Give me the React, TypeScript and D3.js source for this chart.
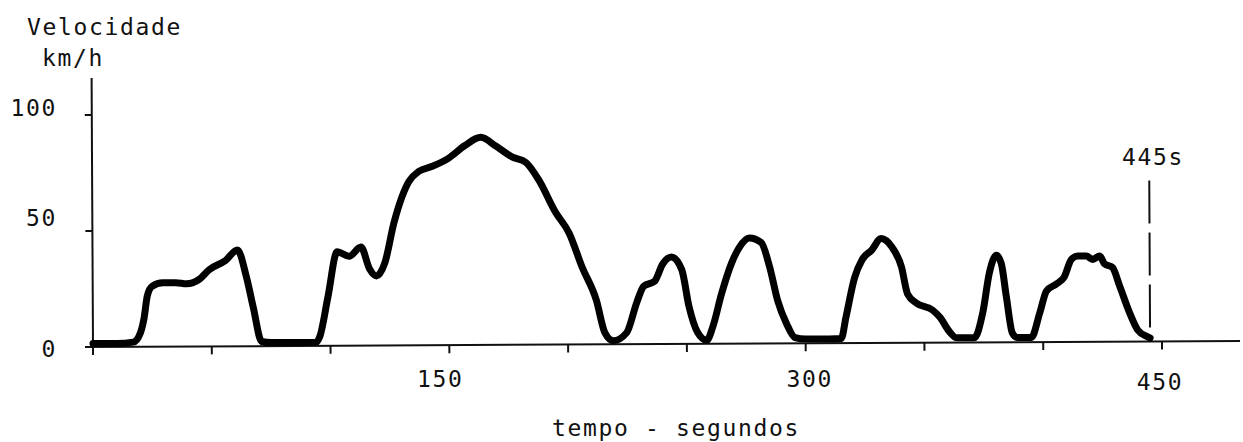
import React from "react";
import * as d3 from "d3";

// speed trace (t in s, v in km/h)
const times = [
  0, 10, 17, 20, 21.5, 23, 25, 29.5, 35, 39.5, 45, 49, 56, 61, 64.7, 67.5, 71, 75, 94,
  95.5, 99, 103, 108, 113, 116.6, 119.5, 123, 127, 133.4, 137.6, 143, 150, 157, 163.7,
  170, 176.8, 182.6, 188, 195, 200.7, 206, 212, 215.5, 219, 224.7, 229, 232, 236.5, 240,
  243.7, 248, 251, 254.5, 258.4, 261, 264.7, 268.9, 272.3, 276.5, 281.5, 285, 288.3, 292,
  295.5, 300, 310, 315, 317, 320.7, 324, 328, 332, 336.7, 340.5, 343, 346.8, 353.5, 356.5,
  360.7, 363.6, 371, 374.6, 377.5, 380.5, 382.5, 384.6, 387, 389, 395, 398.6, 401.5, 405.7,
  409, 412, 414.6, 418.3, 421, 424, 426, 429.3, 432.3, 436.4, 439.8, 444, 445,
];
const speeds = [
  1.5, 1.5, 2, 6, 12, 22, 26, 27.5, 27.5, 27, 29, 33, 37, 41.5, 30, 17, 2, 1.5, 1.5,
  4, 21, 40.5, 38.5, 42.5, 33, 30, 35.5, 53, 70.7, 75, 77, 80.5, 86, 89.5,
  85.7, 81, 78.6, 71, 57, 48, 33.5, 19, 5, 1.5, 5, 18, 25, 27, 34.5,
  37.5, 32, 16, 5, 1.5, 7.5, 21.5, 34.5, 41.5, 45.5, 43.5, 33, 18.5, 8.5,
  2.5, 1.8, 1.8, 2, 11, 28, 36, 40, 45, 41, 32.7, 21, 17, 14, 11,
  4.5, 2, 2, 12.7, 30, 37.5, 34, 19.5, 4, 2, 2, 12.5, 22, 25,
  28, 35.5, 37, 37, 35.5, 37, 33.5, 32, 24, 12.5, 5, 2, 1.5,
];
const xTicks = [0, 50, 100, 150, 200, 250, 300, 350, 400, 450];
const xTickLabels = [150, 300, 450];
const yTicks = [50, 100];
const yTickLabels = [0, 50, 100];
const endTime = 445;

// hand-placed label nudges of the original drawing
const xLabelNudge: Record<number, number> = { 150: -9, 300: 4, 450: -2 };
const yLabelNudge: Record<number, number> = { 0: 10, 50: -5, 100: 1 };

const font = "'DejaVu Sans Mono', monospace";

const App = () => {
  const width = 1243;
  const height = 442;

  const x = d3.scaleLinear().domain([0, 450]).range([93, 1162]);
  const y = d3.scaleLinear().domain([0, 100]).range([347, 115]);

  const data = times.map((t, i) => ({ t, v: speeds[i] }));
  const line = d3
    .line<{ t: number; v: number }>()
    .x((d) => x(d.t))
    .y((d) => y(d.v))
    .curve(d3.curveMonotoneX);

  const textStyle = { fontFamily: font, fontSize: 23, letterSpacing: 1.65, fill: "#111" };

  return (
    <svg
      width={width}
      height={height}
      style={{ position: "absolute", left: 0, top: 0, background: "#fff" }}
    >
      <text x={27} y={35} {...textStyle}>Velocidade</text>
      <text x={42} y={66} {...textStyle}>km/h</text>

      {yTickLabels.map((v) => (
        <text key={v} x={57} y={y(v) + yLabelNudge[v]} textAnchor="end" {...textStyle}>
          {v}
        </text>
      ))}

      <g transform={`rotate(-0.3, ${x(0)}, ${y(0)})`}>
        {/* axes */}
        <line x1={x(0)} x2={x(0)} y1={78} y2={y(0)} stroke="#111" strokeWidth={2} />
        <line x1={85} x2={1240} y1={y(0)} y2={y(0)} stroke="#111" strokeWidth={2} />
        {yTicks.map((v) => (
          <line key={v} x1={x(0) - 7} x2={x(0)} y1={y(v)} y2={y(v)} stroke="#111" strokeWidth={2} />
        ))}
        {xTicks.map((t) => (
          <line key={t} x1={x(t)} x2={x(t)} y1={y(0)} y2={y(0) + 8} stroke="#111" strokeWidth={2} />
        ))}

        {/* end marker */}
        <line
          x1={x(endTime)}
          x2={x(endTime)}
          y1={186}
          y2={y(0)}
          stroke="#111"
          strokeWidth={2}
          strokeDasharray="43 9"
        />

        <path
          d={line(data) || ""}
          fill="none"
          stroke="#000"
          strokeWidth={7}
          strokeLinejoin="round"
          strokeLinecap="round"
        />
      </g>

      {xTickLabels.map((t) => (
        <text key={t} x={x(t) + xLabelNudge[t]} y={t === 450 ? 390 : 387} textAnchor="middle" {...textStyle}>
          {t}
        </text>
      ))}
      <text x={676} y={436} textAnchor="middle" {...textStyle}>tempo - segundos</text>
      <text x={1153} y={165} textAnchor="middle" {...textStyle}>445s</text>
    </svg>
  );
};

export default App;
